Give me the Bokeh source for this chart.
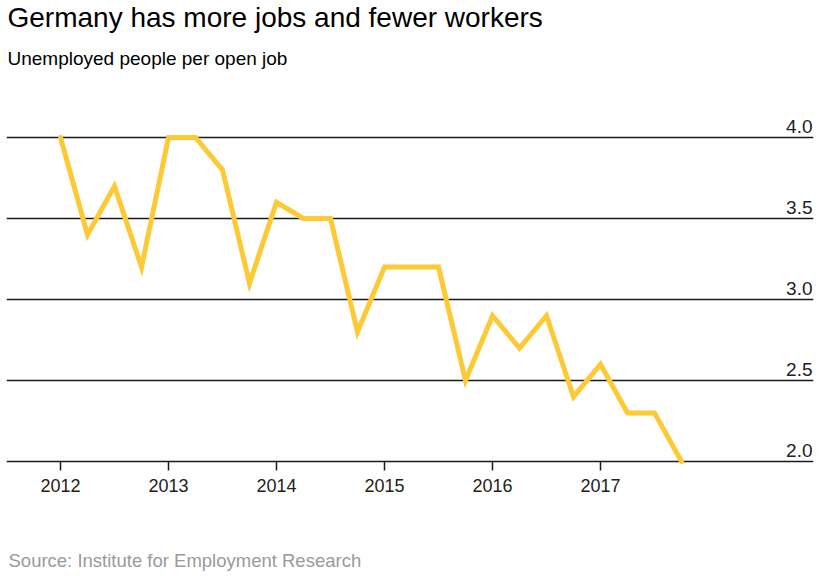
from bokeh.core.properties import value
from bokeh.embed import file_html
from bokeh.models import ColumnDataSource, FixedTicker, Range1d
from bokeh.plotting import figure
from bokeh.resources import INLINE

# quarterly readings, 2012 Q1 .. 2017 Q4
quarters = [2012 + i * 0.25 for i in range(24)]
ratio = [4.0, 3.4, 3.7, 3.2,
         4.0, 4.0, 3.8, 3.1,
         3.6, 3.5, 3.5, 2.8,
         3.2, 3.2, 3.2, 2.5,
         2.9, 2.7, 2.9, 2.4,
         2.6, 2.3, 2.3, 2.0]

year_ticks = [2012, 2013, 2014, 2015, 2016, 2017]
year_labels = ["2012", "2013", "2014", "2015", "2016", "2017"]
y_ticks = [2.0, 2.5, 3.0, 3.5, 4.0]
y_labels = ["2.0", "2.5", "3.0", "3.5", "4.0"]

title = "Germany has more jobs and fewer workers"
subtitle = "Unemployed people per open job"
source_note = "Source: Institute for Employment Research"

W, H = 819, 576
SIDE = 6
FONT = value("Liberation Sans")

# frame spans the canvas height; 108 px per year, 162 px per unit
px_x, px_y = 108.0, 162.0
x0 = 2012 - 54 / px_x
x1 = x0 + (W - 2 * SIDE) / px_x
y_top = 4.0 + 137 / px_y
y_bot = y_top - H / px_y

p = figure(width=W, height=H, output_backend="svg", toolbar_location=None,
           x_range=Range1d(x0, x1), y_range=Range1d(y_bot, y_top),
           min_border=0, min_border_left=SIDE, min_border_right=SIDE,
           outline_line_color=None)
p.xaxis.visible = False
p.yaxis.visible = False
p.xgrid.visible = False
p.yaxis.ticker = FixedTicker(ticks=y_ticks)
p.ygrid.grid_line_color = "#1a1a1a"
p.ygrid.grid_line_width = 1.5

# year ticks hanging below the 2.0 line
tick_len = 9 / px_y
p.segment(x0=year_ticks, y0=[2.0] * 6, x1=year_ticks, y1=[2.0 - tick_len] * 6,
          line_color="#1a1a1a", line_width=1.5)
p.text(x=year_ticks, y=[2.0] * 6, text=year_labels, y_offset=24,
       text_align="center", text_baseline="alphabetic",
       text_font=FONT, text_font_size="18px", text_color="#222222")

# value labels sit above the gridlines at the right edge
p.text(x=[x1] * 5, y=y_ticks, text=y_labels, x_offset=-1, y_offset=-11,
       text_align="right", text_baseline="alphabetic",
       text_font=FONT, text_font_size="19px", text_color="#222222")

src = ColumnDataSource(data=dict(x=quarters, y=ratio))
p.line("x", "y", source=src, line_color="#FDC935", line_width=5,
       line_join="miter", line_cap="round")

# headings and footnote
p.text(x=[x0], y=[y_top], text=[title], x_offset=1, y_offset=17,
       text_baseline="alphabetic", text_font=FONT, text_font_size="28px",
       text_color="#000000")
p.text(x=[x0], y=[y_top], text=[subtitle], x_offset=1, y_offset=58,
       text_baseline="alphabetic", text_font=FONT, text_font_size="19px",
       text_color="#000000")
p.text(x=[x0], y=[y_top], text=[source_note], x_offset=2, y_offset=560,
       text_baseline="alphabetic", text_font=FONT, text_font_size="18.5px",
       text_color="#9a9a9a")

open("out.html", "w").write(file_html(p, INLINE))
